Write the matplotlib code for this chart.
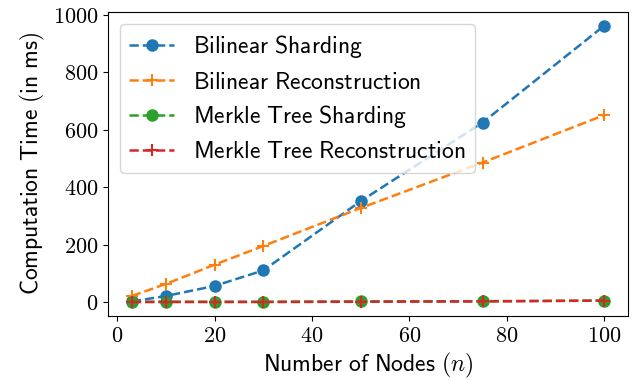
import matplotlib
matplotlib.use("Agg")
import matplotlib.pyplot as plt
from matplotlib.ticker import FuncFormatter

plt.rcParams['mathtext.fontset'] = 'cm'
plt.rcParams['font.size'] = 12

nodes = [3, 10, 20, 30, 50, 75, 100]
bilinear_sharding = [3, 22, 57, 111, 352, 625, 962]
bilinear_recon = [22, 64, 131, 196, 328, 486, 651]
merkle_sharding = [2, 2, 2, 2, 3, 4, 6]
merkle_recon = [1, 1, 1, 1, 2, 3, 6]

fig = plt.figure(figsize=(6.33, 3.81), dpi=100)
ax = fig.add_axes([0.171, 0.171, 0.821, 0.798])

ax.plot(nodes, bilinear_sharding, '--o', color='#1f77b4', markersize=8, lw=1.8,
        label=r'$\mathsf{Bilinear\ Sharding}$')
ax.plot(nodes, bilinear_recon, '--+', color='#ff7f0e', markersize=9, mew=1.5, lw=1.8,
        label=r'$\mathsf{Bilinear\ Reconstruction}$')
ax.plot(nodes, merkle_sharding, '--o', color='#2ca02c', markersize=8, lw=1.8,
        label=r'$\mathsf{Merkle\ Tree\ Sharding}$')
ax.plot(nodes, merkle_recon, '--+', color='#d62728', markersize=9, mew=1.5, lw=1.8,
        label=r'$\mathsf{Merkle\ Tree\ Reconstruction}$')

ax.set_yticks([0, 200, 400, 600, 800, 1000])
ax.set_xticks([0, 20, 40, 60, 80, 100])
fmt = FuncFormatter(lambda v, p: r'$%d$' % v)
ax.xaxis.set_major_formatter(fmt)
ax.yaxis.set_major_formatter(fmt)
ax.tick_params(labelsize=16)

ax.set_xlabel(r'$\mathsf{Number\ of\ Nodes\ (}n\mathsf{)}$', fontsize=17)
ax.set_ylabel(r'$\mathsf{Computation\ Time\ (in\ ms)}$', fontsize=17)
ax.legend(loc='upper left', fontsize=17, handlelength=1.9, labelspacing=0.4)

fig.savefig('out.png', dpi=100)
